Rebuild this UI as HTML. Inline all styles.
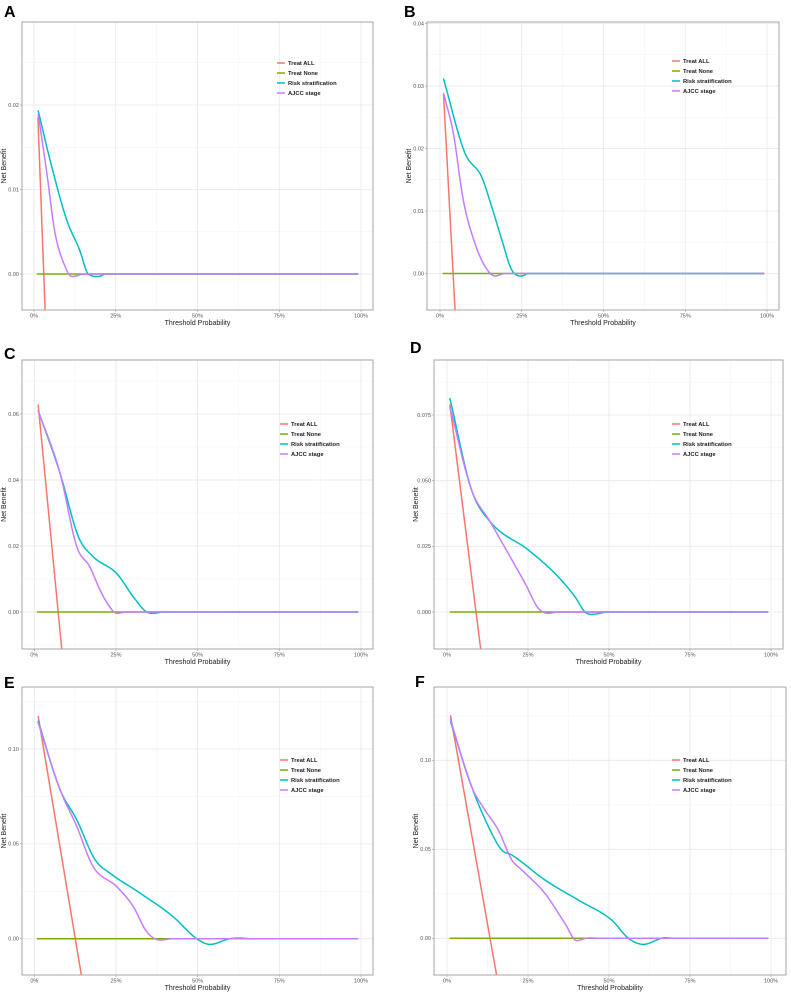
<!DOCTYPE html>
<html><head><meta charset="utf-8"><style>
html,body{margin:0;padding:0;background:#fff;}
svg{display:block;font-family:"Liberation Sans",sans-serif;}
</style></head><body>
<svg id="fig" width="791" height="992" viewBox="0 0 791 992" xmlns="http://www.w3.org/2000/svg"></svg>
<script>
// ---- data: thresholds (%) and net benefit values per panel ----
const seriesNames = ["Treat ALL","Treat None","Risk stratification","AJCC stage"];
const seriesColors = ["#F8766D","#7CAE00","#00BFC4","#C77CFF"];
const xTickLabels = ["0%","25%","50%","75%","100%"];

const A_all_t=[1.2,3.4], A_all_v=[0.0185,-0.0043];
const A_none_t=[1,99], A_none_v=[0,0];
const A_risk_t=[1.3,4.9,10,14,16.6,19.7,22,60,99], A_risk_v=[0.0193,0.0135,0.0064,0.0028,0,-0.0003,0,0,0];
const A_ajcc_t=[1.3,3.9,6.4,9.5,11.5,15.6,40,99], A_ajcc_v=[0.0189,0.012,0.0049,0.0009,-0.0003,0,0,0];
const A_yticks=[0,0.01,0.02], A_ylabels=["0.00","0.01","0.02"];

const B_all_t=[1.1,4.6], B_all_v=[0.0285,-0.0058];
const B_none_t=[1,99], B_none_v=[0,0];
const B_risk_t=[1.1,7.6,12.7,15.8,18.9,21.9,25,27,60,99], B_risk_v=[0.0311,0.0193,0.0155,0.0107,0.0054,0.0006,-0.0004,0,0,0];
const B_ajcc_t=[1.1,4.1,7.1,10.7,13.8,16.8,20,50,99], B_ajcc_v=[0.0288,0.0224,0.0118,0.0048,0.0011,-0.0004,0,0,0];
const B_yticks=[0,0.01,0.02,0.03,0.04], B_ylabels=["0.00","0.01","0.02","0.03","0.04"];

const C_all_t=[1.2,8.4], C_all_v=[0.0627,-0.0112];
const C_none_t=[1,99], C_none_v=[0,0];
const C_risk_t=[1.2,7.9,13.5,18,25.2,30.3,34.4,36.4,39.4,70,99], C_risk_v=[0.061,0.042,0.0228,0.0168,0.0117,0.0046,0,-0.0004,0,0,0];
const C_ajcc_t=[1.2,7.9,13,17,20.1,22.7,25.2,28.3,60,99], C_ajcc_v=[0.061,0.042,0.0198,0.0137,0.0067,0.0021,-0.0004,0,0,0];
const C_yticks=[0,0.02,0.04,0.06], C_ylabels=["0.00","0.02","0.04","0.06"];

const D_all_t=[0.9,10.4], D_all_v=[0.0788,-0.0141];
const D_none_t=[1,99], D_none_v=[0,0];
const D_risk_t=[0.9,7.6,13.3,25.1,33.3,39.5,42.6,44.7,49.8,75,99], D_risk_v=[0.0813,0.0464,0.0344,0.0236,0.0147,0.0058,0,-0.0009,0,0,0];
const D_ajcc_t=[0.9,7.6,13.3,18.9,24.1,28.2,31.3,34.4,70,99], D_ajcc_v=[0.0781,0.0464,0.0344,0.0223,0.0109,0.0014,-0.0005,0,0,0];
const D_yticks=[0,0.025,0.05,0.075], D_ylabels=["0.000","0.025","0.050","0.075"];

const E_all_t=[1.2,14.4], E_all_v=[0.1172,-0.0192];
const E_none_t=[1,99], E_none_v=[0,0];
const E_risk_t=[1.2,7.9,13,18.6,23.2,32.4,42.5,49.7,53.8,59.9,63,66,85,99], E_risk_v=[0.1146,0.0785,0.0627,0.0416,0.0345,0.024,0.0116,0,-0.003,0,0.0003,0,0,0];
const E_ajcc_t=[1.2,7.9,13,18,25.2,30.3,34.4,38.5,42.5,75,99], E_ajcc_v=[0.1137,0.0785,0.0592,0.038,0.0275,0.0169,0.0037,-0.0007,0,0,0];
const E_yticks=[0,0.05,0.10], E_ylabels=["0.00","0.05","0.10"];

const F_all_t=[1.1,15.3], F_all_v=[0.1249,-0.0206];
const F_none_t=[1,99], F_none_v=[0,0];
const F_risk_t=[1.1,7.6,12.8,16.9,20,30.2,40.5,50.8,56,60.6,67.3,70.4,85,99], F_risk_v=[0.1217,0.0852,0.0627,0.0496,0.0468,0.0328,0.0215,0.0103,0,-0.0034,0.0003,0,0,0];
const F_ajcc_t=[1.1,7.6,11.7,15.8,20,23.1,30.2,36.4,40,43.6,47.7,75,99], F_ajcc_v=[0.1227,0.0852,0.0721,0.0609,0.044,0.0384,0.0253,0.0084,-0.0013,0.0002,0,0,0];
const F_yticks=[0,0.05,0.10], F_ylabels=["0.00","0.05","0.10"];

// ---- layout (pixels) ----
const panels=[
 {id:"a",label:"A",lx:4,ly:17,L:22,R:373,T:22,B:310,x0:34,x100:361,yv0:0,yp0:274,yv1:0.02,yp1:105,ymin:-0.0043,ymax:0.0298,minorStep:0.005,
  lgX:277,lgY:63, data:[[A_all_t,A_all_v],[A_none_t,A_none_v],[A_risk_t,A_risk_v],[A_ajcc_t,A_ajcc_v]],yt:A_yticks,yl:A_ylabels},
 {id:"b",label:"B",lx:404,ly:17,L:427,R:779,T:22,B:310,x0:440,x100:767,yv0:0,yp0:273.5,yv1:0.04,yp1:23.5,ymin:-0.0058,ymax:0.0402,minorStep:0.005,
  lgX:672,lgY:61, data:[[B_all_t,B_all_v],[B_none_t,B_none_v],[B_risk_t,B_risk_v],[B_ajcc_t,B_ajcc_v]],yt:B_yticks,yl:B_ylabels},
 {id:"c",label:"C",lx:4,ly:359,L:22,R:373,T:360,B:649,x0:34.3,x100:361,yv0:0,yp0:612,yv1:0.06,yp1:414,ymin:-0.0112,ymax:0.0764,minorStep:0.01,
  lgX:280,lgY:424, data:[[C_all_t,C_all_v],[C_none_t,C_none_v],[C_risk_t,C_risk_v],[C_ajcc_t,C_ajcc_v]],yt:C_yticks,yl:C_ylabels},
 {id:"d",label:"D",lx:410,ly:353,L:434,R:783,T:360,B:649,x0:447,x100:771,yv0:0,yp0:612,yv1:0.075,yp1:415,ymin:-0.0141,ymax:0.0959,minorStep:0.0125,
  lgX:672,lgY:424, data:[[D_all_t,D_all_v],[D_none_t,D_none_v],[D_risk_t,D_risk_v],[D_ajcc_t,D_ajcc_v]],yt:D_yticks,yl:D_ylabels},
 {id:"e",label:"E",lx:4,ly:688,L:22,R:373,T:687,B:975,x0:34.3,x100:361,yv0:0,yp0:938.7,yv1:0.10,yp1:749,ymin:-0.0192,ymax:0.1329,minorStep:0.025,
  lgX:280,lgY:760, data:[[E_all_t,E_all_v],[E_none_t,E_none_v],[E_risk_t,E_risk_v],[E_ajcc_t,E_ajcc_v]],yt:E_yticks,yl:E_ylabels},
 {id:"f",label:"F",lx:415,ly:687,L:434,R:786,T:687,B:975,x0:447,x100:771,yv0:0,yp0:938.3,yv1:0.10,yp1:760.3,ymin:-0.0206,ymax:0.1413,minorStep:0.025,
  lgX:672,lgY:760, data:[[F_all_t,F_all_v],[F_none_t,F_none_v],[F_risk_t,F_risk_v],[F_ajcc_t,F_ajcc_v]],yt:F_yticks,yl:F_ylabels}
];

const NS="http://www.w3.org/2000/svg";
const svg=document.getElementById("fig");
function mk(tag,attrs,parent){const e=document.createElementNS(NS,tag);for(const k in attrs)e.setAttribute(k,attrs[k]);(parent||svg).appendChild(e);return e;}

// monotone cubic (Fritsch-Carlson) interpolation in data space, sampled
function monotonePoints(ts,vs){
  const n=ts.length;
  if(n<3) return ts.map((t,i)=>[t,vs[i]]);
  const d=[],m=new Array(n);
  for(let i=0;i<n-1;i++) d.push((vs[i+1]-vs[i])/(ts[i+1]-ts[i]));
  m[0]=d[0]; m[n-1]=d[n-2];
  for(let i=1;i<n-1;i++){ m[i]=(d[i-1]*d[i]<=0)?0:(d[i-1]+d[i])/2; }
  for(let i=0;i<n-1;i++){
    if(d[i]===0){m[i]=0;m[i+1]=0;continue;}
    const a=m[i]/d[i],b=m[i+1]/d[i],s=a*a+b*b;
    if(s>9){const tt=3/Math.sqrt(s);m[i]=tt*a*d[i];m[i+1]=tt*b*d[i];}
  }
  const out=[];
  for(let i=0;i<n-1;i++){
    const h=ts[i+1]-ts[i], steps=Math.max(2,Math.ceil(h*2));
    for(let k=0;k<steps;k++){
      const u=k/steps,u2=u*u,u3=u2*u;
      const v=(2*u3-3*u2+1)*vs[i]+(u3-2*u2+u)*h*m[i]+(-2*u3+3*u2)*vs[i+1]+(u3-u2)*h*m[i+1];
      out.push([ts[i]+u*h,v]);
    }
  }
  out.push([ts[n-1],vs[n-1]]);
  return out;
}

panels.forEach(P=>{
  const g=mk("g",{});
  
  
  const xs=t=>P.x0+(t/100)*(P.x100-P.x0);
  const ys=v=>P.yp0+(v-P.yv0)*(P.yp1-P.yp0)/(P.yv1-P.yv0);

  const lab=mk("text",{x:P.lx,y:P.ly,"font-size":"16","font-weight":"bold",fill:"#000"},g);
  lab.textContent=P.label;
  
  

  mk("rect",{x:P.L,y:P.T,width:P.R-P.L,height:P.B-P.T,fill:"#fff"},g);
  const cp="clip-"+P.id;
  const defs=mk("defs",{},g);
  const clip=mk("clipPath",{id:cp},defs);
  mk("rect",{x:P.L,y:P.T,width:P.R-P.L,height:P.B-P.T},clip);

  const grid=mk("g",{},g);
  
  
  for(let t=-12.5;t<=112.5;t+=12.5){
    const x=xs(t); if(x<P.L||x>P.R) continue;
    const major=(t%25===0);
    mk("line",{x1:x,x2:x,y1:P.T,y2:P.B,stroke:major?"#e8e8e8":"#f3f3f3","stroke-width":major?0.8:0.5},grid);
  }
  for(let k=Math.ceil(P.ymin/P.minorStep);k*P.minorStep<=P.ymax;k++){
    const v=k*P.minorStep; const y=ys(v);
    const major=P.yt.some(tv=>Math.abs(tv-v)<1e-9);
    mk("line",{x1:P.L,x2:P.R,y1:y,y2:y,stroke:major?"#e8e8e8":"#f3f3f3","stroke-width":major?0.8:0.5},grid);
  }

  const sg=mk("g",{"clip-path":"url(#"+cp+")"},g);
  const names=["treat-all-line","treat-none-line","risk-stratification-line","ajcc-stage-line"];
  P.data.forEach((s,i)=>{
    const pts=monotonePoints(s[0],s[1]).map(p=>[xs(p[0]),ys(p[1])]);
    const d="M"+pts.map(p=>p[0].toFixed(2)+","+p[1].toFixed(2)).join("L");
    const p=mk("path",{d:d,fill:"none",stroke:seriesColors[i],"stroke-width":1.5,"stroke-linejoin":"round","stroke-linecap":"round"},sg);
    
    
  });

  mk("rect",{x:P.L,y:P.T,width:P.R-P.L,height:P.B-P.T,fill:"none",stroke:"#a6a6a6","stroke-width":1},g);

  P.yt.forEach((v,i)=>{
    const y=ys(v);
    mk("line",{x1:P.L-2,x2:P.L,y1:y,y2:y,stroke:"#888","stroke-width":0.5},g);
    const t=mk("text",{x:P.L-3,y:y+1.8,"font-size":"5.5","text-anchor":"end",fill:"#555"},g);
    t.textContent=P.yl[i];
    
    
  });
  [0,25,50,75,100].forEach((tv,i)=>{
    const x=xs(tv);
    mk("line",{x1:x,x2:x,y1:P.B,y2:P.B+2,stroke:"#888","stroke-width":0.5},g);
    const t=mk("text",{x:x,y:P.B+7.5,"font-size":"5.5","text-anchor":"middle",fill:"#555"},g);
    t.textContent=xTickLabels[i];
    
    
  });
  const xt=mk("text",{x:(P.L+P.R)/2,y:P.B+15,"font-size":"7","text-anchor":"middle",fill:"#222"},g);
  xt.textContent="Threshold Probability";
  
  
  const yc=(P.T+P.B)/2, yx=P.L-16;
  const ytl=mk("text",{x:yx,y:yc,"font-size":"7","text-anchor":"middle",fill:"#222",transform:"rotate(-90 "+yx+" "+yc+")"},g);
  ytl.textContent="Net Benefit";
  
  

  const lg=mk("g",{},g);
  
  
  seriesNames.forEach((n,i)=>{
    const y=P.lgY+i*10;
    mk("line",{x1:P.lgX,x2:P.lgX+8,y1:y,y2:y,stroke:seriesColors[i],"stroke-width":1.5},lg);
    const t=mk("text",{x:P.lgX+11,y:y+2,"font-size":"5.8","font-weight":"bold",fill:"#222"},lg);
    t.textContent=n;
    
    
  });
});
</script>
</body></html>
